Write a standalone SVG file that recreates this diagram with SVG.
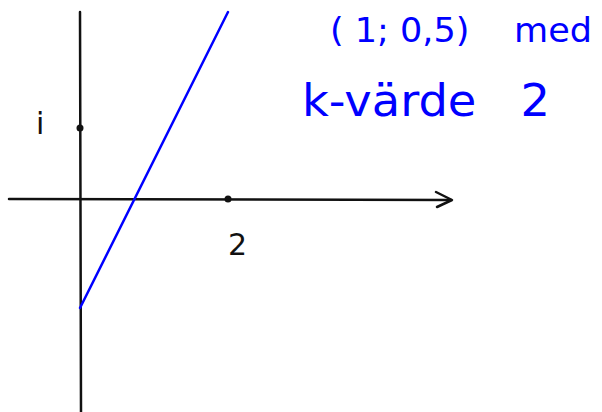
<svg xmlns="http://www.w3.org/2000/svg" width="602" height="412" viewBox="0 0 602 412">
<style>
.ax{stroke:#111;stroke-width:2.5;fill:none;stroke-linecap:round;stroke-linejoin:round}
.bl{stroke:#0000ff;stroke-width:2.5;fill:none;stroke-linecap:round}
.hb{font-family:"DejaVu Sans","Liberation Sans",sans-serif;fill:#0000ff;white-space:pre}
.hk{font-family:"DejaVu Sans","Liberation Sans",sans-serif;fill:#111;font-size:30px}
</style>
<rect width="602" height="412" fill="#fff"/>
<g id="axes">
<line class="ax" x1="80" y1="12" x2="81" y2="412"/>
<line class="ax" x1="9" y1="199" x2="451" y2="200"/>
<polyline class="ax" points="436,192 452,200 437,207"/>
</g>
<g id="line">
<line class="bl" x1="80" y1="308" x2="228" y2="12"/>
</g>
<g id="points">
<circle cx="80" cy="128" r="3.5" fill="#111"/>
<circle cx="228" cy="199" r="3.5" fill="#111"/>
</g>
<g id="labels">
<text class="hk" x="36" y="134">i</text>
<text class="hk" x="228" y="255">2</text>
<text class="hb" xml:space="preserve" x="330" y="42" textLength="262" lengthAdjust="spacingAndGlyphs" font-size="34">( 1; 0,5)    med</text>
<text class="hb" xml:space="preserve" x="302" y="116" textLength="248" lengthAdjust="spacingAndGlyphs" font-size="44">k-värde   2</text>
</g>
</svg>
